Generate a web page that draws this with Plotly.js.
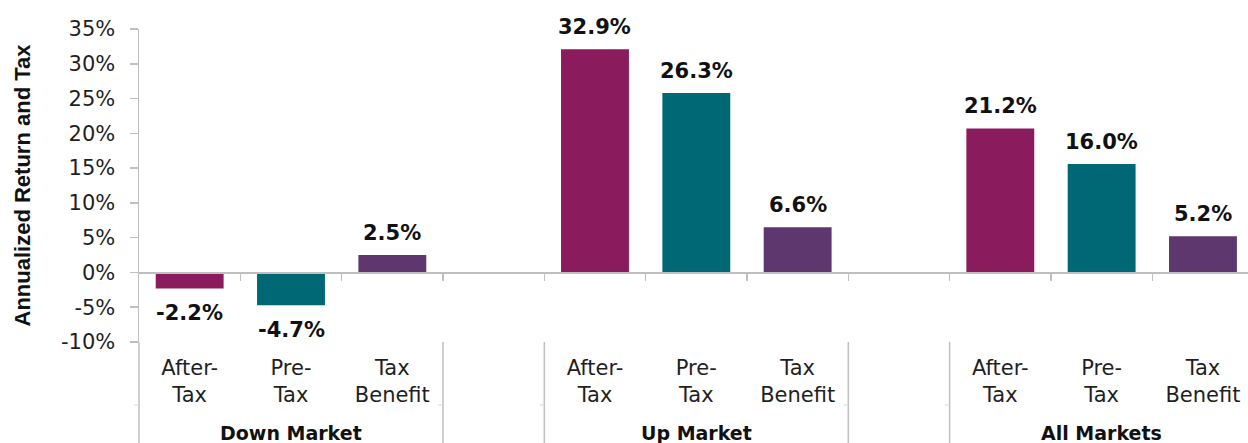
<!DOCTYPE html>
<html>
<head>
<meta charset="utf-8">
<script src="https://cdn.plot.ly/plotly-3.0.1.min.js"></script>
<style>
  html, body { margin: 0; padding: 0; background: #ffffff; }
  #chart { width: 1248px; height: 443px; }
</style>
</head>
<body>
<div id="chart"></div>
<script>
// ---- Data ----
const markets = ['Down Market', 'Up Market', 'All Markets'];
const seriesNames = ['After-Tax', 'Pre-Tax', 'Tax Benefit'];
const categoryTickText = ['After-<br>Tax', 'Pre-<br>Tax', 'Tax<br>Benefit'];

const afterTax = [-2.3, 32.1, 20.7];
const preTax = [-4.7, 25.8, 15.6];
const taxBenefit = [2.5, 6.5, 5.2];

const afterTaxLabels = ['-2.2%', '32.9%', '21.2%'];
const preTaxLabels = ['-4.7%', '26.3%', '16.0%'];
const taxBenefitLabels = ['2.5%', '6.6%', '5.2%'];

const yTickVals = [-10, -5, 0, 5, 10, 15, 20, 25, 30, 35];
const yTickText = ['-10%', '-5%', '0%', '5%', '10%', '15%', '20%', '25%', '30%', '35%'];

// ---- Styling / layout constants ----
const colors = ['#8a1b5c', '#006874', '#5d376e'];
const axisGray = '#bfbfbf';
const textColor = '#1f1f1f';
const baseFont = 'DejaVu Sans, Liberation Sans, Arial, sans-serif';
const W = 1248, H = 443;
const M = { l: 139, r: 0, t: 29, b: 101 };
const plotW = W - M.l - M.r;
const plotH = H - M.t - M.b;
const slot = 101.33;
const xMin = -0.5;
const xMax = xMin + plotW / slot;
const yMin = -10, yMax = 35;
const slotsPerGroup = seriesNames.length + 1;

const seriesValues = [afterTax, preTax, taxBenefit];
const seriesLabels = [afterTaxLabels, preTaxLabels, taxBenefitLabels];

function xPos(g, s) { return g * slotsPerGroup + s; }
function paperX(v) { return (v - xMin) / (xMax - xMin); }
function paperYpx(px) { return (M.t + plotH - px) / plotH; } // px from top -> paper

// ---- Traces ----
const traces = seriesNames.map((name, s) => ({
  type: 'bar',
  name: name,
  x: markets.map((m, g) => xPos(g, s)),
  y: seriesValues[s],
  width: 0.67,
  marker: { color: colors[s] },
  hoverinfo: 'skip',
  showlegend: false
}));
// helper trace so the zero-line axis is drawn
traces.push({ type: 'scatter', x: [null], y: [null], xaxis: 'x2', yaxis: 'y', hoverinfo: 'skip', showlegend: false });

// ---- Tick positions ----
const tickVals = [], tickText = [];
markets.forEach((m, g) => seriesNames.forEach((n, s) => { tickVals.push(xPos(g, s)); tickText.push(categoryTickText[s]); }));
const boundaryVals = [];
for (let b = 0.5; b < xMax; b += 1) boundaryVals.push(b);

// ---- Annotations ----
const annotations = [];
seriesNames.forEach((n, s) => {
  markets.forEach((m, g) => {
    const v = seriesValues[s][g];
    annotations.push({
      x: xPos(g, s), y: v, xref: 'x', yref: 'y',
      text: seriesLabels[s][g], showarrow: false,
      yanchor: v >= 0 ? 'bottom' : 'top',
      yshift: v >= 0 ? 8 : -11,
      font: { family: baseFont, size: 21, weight: 700, color: '#111111' }
    });
  });
});
markets.forEach((m, g) => {
  annotations.push({
    x: xPos(g, 1), y: paperYpx(433), xref: 'x', yref: 'paper',
    text: m, showarrow: false, yanchor: 'middle', xanchor: 'center',
    font: { family: baseFont, size: 19, weight: 700, color: '#111111' }
  });
});

// ---- Shapes: axis extension and group separators ----
const lineStyle = { color: axisGray, width: 1.5 };
const shapes = [];
const bottomPaper = paperYpx(H + 5);
shapes.push({ type: 'line', xref: 'paper', yref: 'paper', x0: 0, x1: 0, y0: 0, y1: bottomPaper, line: lineStyle });
const separators = [];
for (let g = 0; g < markets.length - 1; g++) {
  separators.push(xPos(g, seriesNames.length) - 0.5);
  separators.push(xPos(g, seriesNames.length) + 0.5);
}
separators.forEach(v => {
  shapes.push({ type: 'line', xref: 'paper', yref: 'paper', x0: paperX(v), x1: paperX(v), y0: 0, y1: bottomPaper, line: lineStyle });
});
[xMin].concat(separators).forEach(v => {
  const px = paperX(v);
  shapes.push({ type: 'line', xref: 'paper', yref: 'paper', x0: px - 5 / plotW, x1: px, y0: paperYpx(405), y1: paperYpx(405), line: { color: '#d9d9d9', width: 1 } });
});

const layout = {
  width: W, height: H,
  margin: M,
  paper_bgcolor: '#ffffff', plot_bgcolor: '#ffffff',
  showlegend: false,
  barmode: 'overlay',
  xaxis: {
    range: [xMin, xMax],
    tickmode: 'array', tickvals: tickVals, ticktext: tickText,
    ticks: '', showline: false, showgrid: false, zeroline: false,
    tickfont: { family: baseFont, size: 21, color: textColor },
    ticklabelstandoff: 11,
    fixedrange: true
  },
  xaxis2: {
    overlaying: 'x', anchor: 'free', position: (0 - yMin) / (yMax - yMin), side: 'bottom',
    range: [xMin, xMax],
    tickmode: 'array', tickvals: boundaryVals,
    ticks: 'outside', ticklen: 7, tickwidth: 1.5, tickcolor: axisGray,
    showline: true, linecolor: axisGray, linewidth: 1.5,
    showticklabels: false, showgrid: false, zeroline: false,
    fixedrange: true
  },
  yaxis: {
    range: [yMin, yMax],
    tickmode: 'array', tickvals: yTickVals, ticktext: yTickText,
    ticks: 'outside', ticklen: 8, tickwidth: 1.5, tickcolor: axisGray,
    showline: true, linecolor: axisGray, linewidth: 1.5,
    showgrid: false, zeroline: false,
    tickfont: { family: baseFont, size: 21, color: textColor },
    ticklabelstandoff: 10,
    title: { text: 'Annualized Return and Tax', standoff: 24,
      font: { family: 'Liberation Sans, Arial, sans-serif', size: 22, weight: 700, color: '#111111' } },
    fixedrange: true
  },
  annotations: annotations,
  shapes: shapes
};

Plotly.newPlot('chart', traces, layout, { displayModeBar: false, staticPlot: true });
</script>
</body>
</html>
